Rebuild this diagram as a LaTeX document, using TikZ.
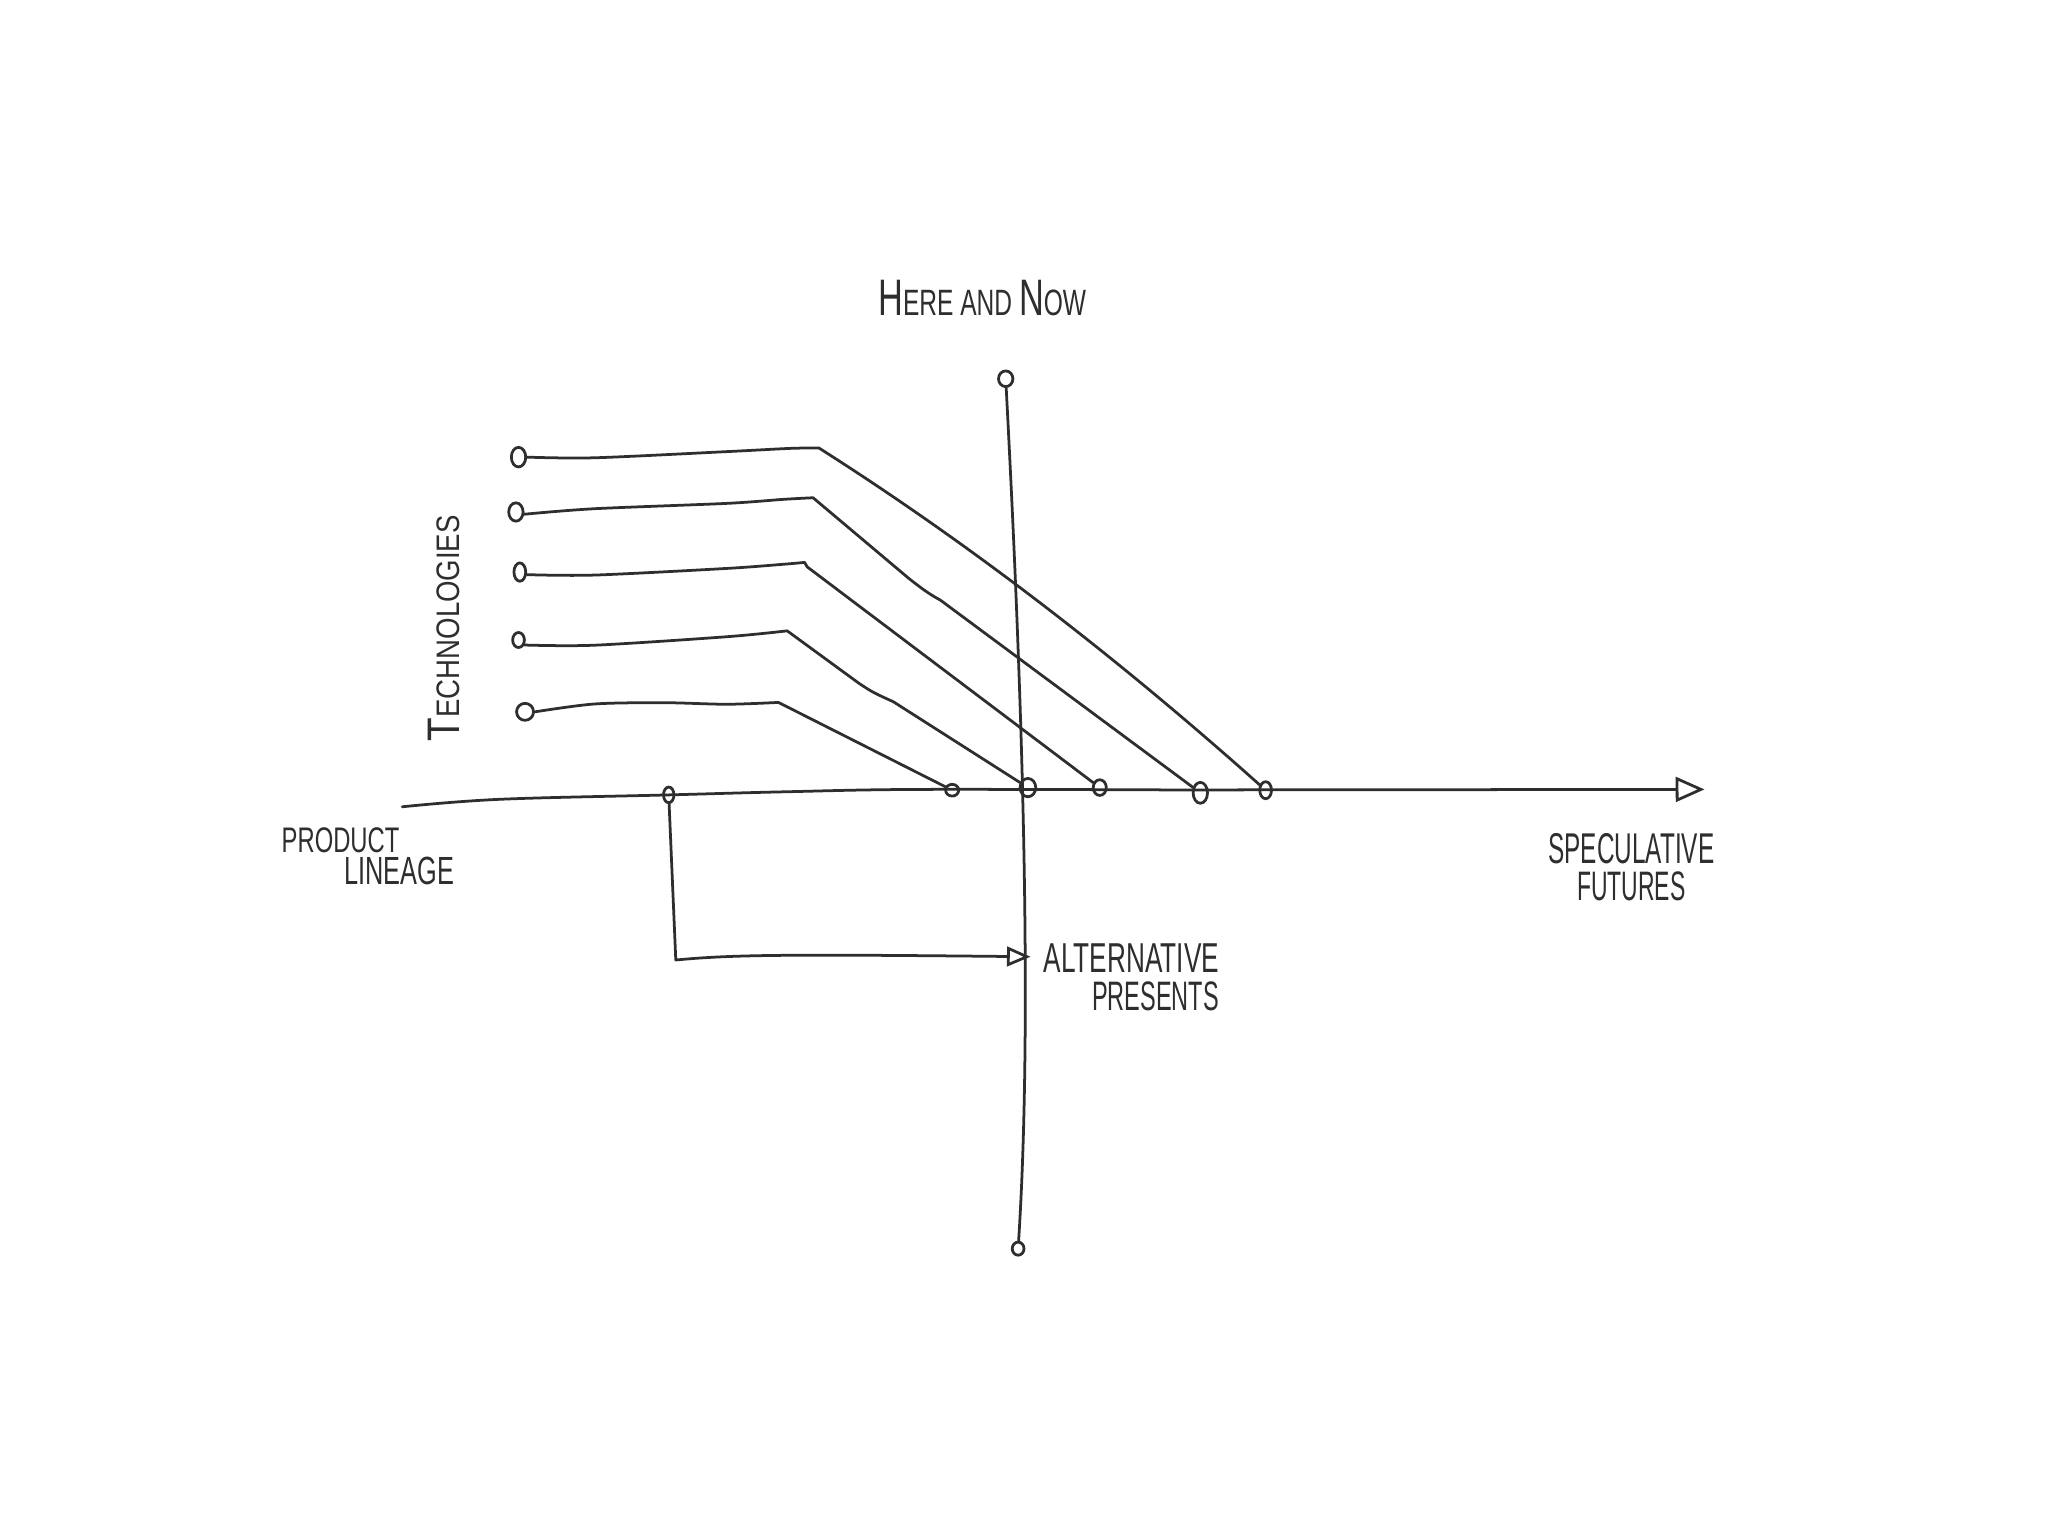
\documentclass[tikz,border=0pt]{standalone}
\usepackage{fontspec}
\setmainfont{Liberation Sans}
\usepackage{graphicx}
\usetikzlibrary{shapes.geometric,arrows.meta}
\definecolor{ink}{HTML}{2E2E2E}
\newcommand\Bg[1]{{\fontsize{10.5}{12}\selectfont #1}}
\newcommand\Sm[1]{{\fontsize{7.5}{9}\selectfont #1}}
\newcommand\fitto[3]{\resizebox{#1}{#2}{#3}}
\tikzset{
  ink/.style={draw=ink, line width=0.6pt, line cap=round, line join=round},
  dot/.style 2 args={ellipse, draw=ink, line width=0.6pt, inner sep=0pt,
    minimum width=#1cm, minimum height=#2cm},
  lbl/.style={inner sep=0pt, text=ink},
  bigtip/.style={-{Triangle[open, length=0.22cm, width=0.19cm, line width=0.6pt]}},
  smalltip/.style={-{Triangle[open, length=0.18cm, width=0.15cm, line width=0.6pt]}},
}
\begin{document}
\begin{tikzpicture}[x=0.01cm, y=-0.01cm]
\fill[white] (0,0) rectangle (1568,1176);
\useasboundingbox (0,0) rectangle (1568,1176);

% labels
\node[lbl] (here) at (752,228.5) {\fitto{1.59cm}{0.27cm}{\Bg{H}\Sm{ERE AND }\Bg{N}\Sm{OW}}};
\node[lbl, rotate=90] (tech) at (340,481) {\fitto{1.73cm}{0.24cm}{\Bg{T}\Sm{ECHNOLOGIES}}};
\node[lbl, anchor=north west, align=left, font=\fontsize{6}{7.0}\selectfont] (prod) at (215,633)
  {\fitto{0.90cm}{0.19cm}{\Sm{PRODUCT}}\\\hspace*{0.48cm}\fitto{0.84cm}{0.21cm}{\Sm{LINEAGE}}};
\node[lbl, align=center, font=\fontsize{6}{8.2}\selectfont] (spec) at (1249,664)
  {\fitto{1.27cm}{0.23cm}{\Sm{SPECULATIVE}}\\\fitto{0.83cm}{0.22cm}{\Sm{FUTURES}}};
\node[lbl, anchor=north east, align=right, font=\fontsize{6}{8.2}\selectfont] (alt) at (934,722)
  {\fitto{1.34cm}{0.22cm}{\Sm{ALTERNATIVE}}\\\fitto{0.97cm}{0.22cm}{\Sm{PRESENTS}}};

% start circles of technologies
\node[dot={0.11}{0.15}] (s1) at (397,350) {};
\node[dot={0.11}{0.14}] (s2) at (395,392) {};
\node[dot={0.09}{0.14}] (s3) at (398,438) {};
\node[dot={0.09}{0.115}] (s4) at (397,490) {};
\node[dot={0.13}{0.13}] (s5) at (402,545) {};

% circles on the horizontal axis
\node[dot={0.08}{0.12}] (a0) at (512,608.6) {};
\node[dot={0.10}{0.09}] (a1) at (729,605) {};
\node[dot={0.12}{0.14}] (a2) at (787,603) {};
\node[dot={0.10}{0.12}] (a3) at (842,603) {};
\node[dot={0.11}{0.16}] (a4) at (919,607) {};
\node[dot={0.09}{0.13}] (a5) at (969,605) {};

% vertical axis end circles
\node[dot={0.11}{0.12}] (vt) at (770,290) {};
\node[dot={0.09}{0.10}] (vb) at (779.5,956) {};

% axes
\coordinate (haxL) at (308,617.7);
\coordinate (haxR) at (1305,604.4);
\draw[ink, bigtip] plot[smooth, tension=0.6] coordinates {(haxL) (382,612) (512,608.6) (602,606.2) (704,604.4) (900,604.8)} -- (haxR);
\draw[ink] (vt) .. controls (780,480) and (792,760) .. (vb);

% bracket to alternative presents
\coordinate (brc) at (517.4,735);
\coordinate (apt) at (789,732.5);
\draw[ink, smalltip] (a0) -- (brc) .. controls (560,731) and (600,730.5) .. (apt);

% technology lines
\coordinate (k1) at (627,343);
\coordinate (k2) at (622.5,381.1);
\coordinate (k3) at (616,430.6);
\coordinate (k4) at (602.7,483);
\coordinate (k5) at (596,537.8);
\draw[ink] plot[smooth, tension=0.5] coordinates {(s1.east) (455,350.5) (556,345.8) (605,343.3) (k1)}
  .. controls (745,418) and (857,505) .. (a5);
\draw[ink] plot[smooth, tension=0.5] coordinates {(s2.-15) (455,389.5) (556.5,385.4) (600,382.3) (k2)}
  -- (696,443) .. controls (705,450) and (710,454) .. (720,459.5) -- (a4);
\draw[ink] plot[smooth, tension=0.5] coordinates {(s3.-20) (455,440.3) (556.5,435.2) (600,432) (k3)}
  -- (618,434) -- (a3);
\draw[ink] plot[smooth, tension=0.5] coordinates {(s4.-40) (455,494) (556.5,487.5) (k4)}
  -- (657.7,523.2) .. controls (668,530) .. (684,537.3) -- (a2);
\draw[ink] plot[smooth, tension=0.5] coordinates {(s5.east) (455,539) (508,538) (556.5,539.2) (k5)}
  -- (a1);
\end{tikzpicture}
\end{document}
